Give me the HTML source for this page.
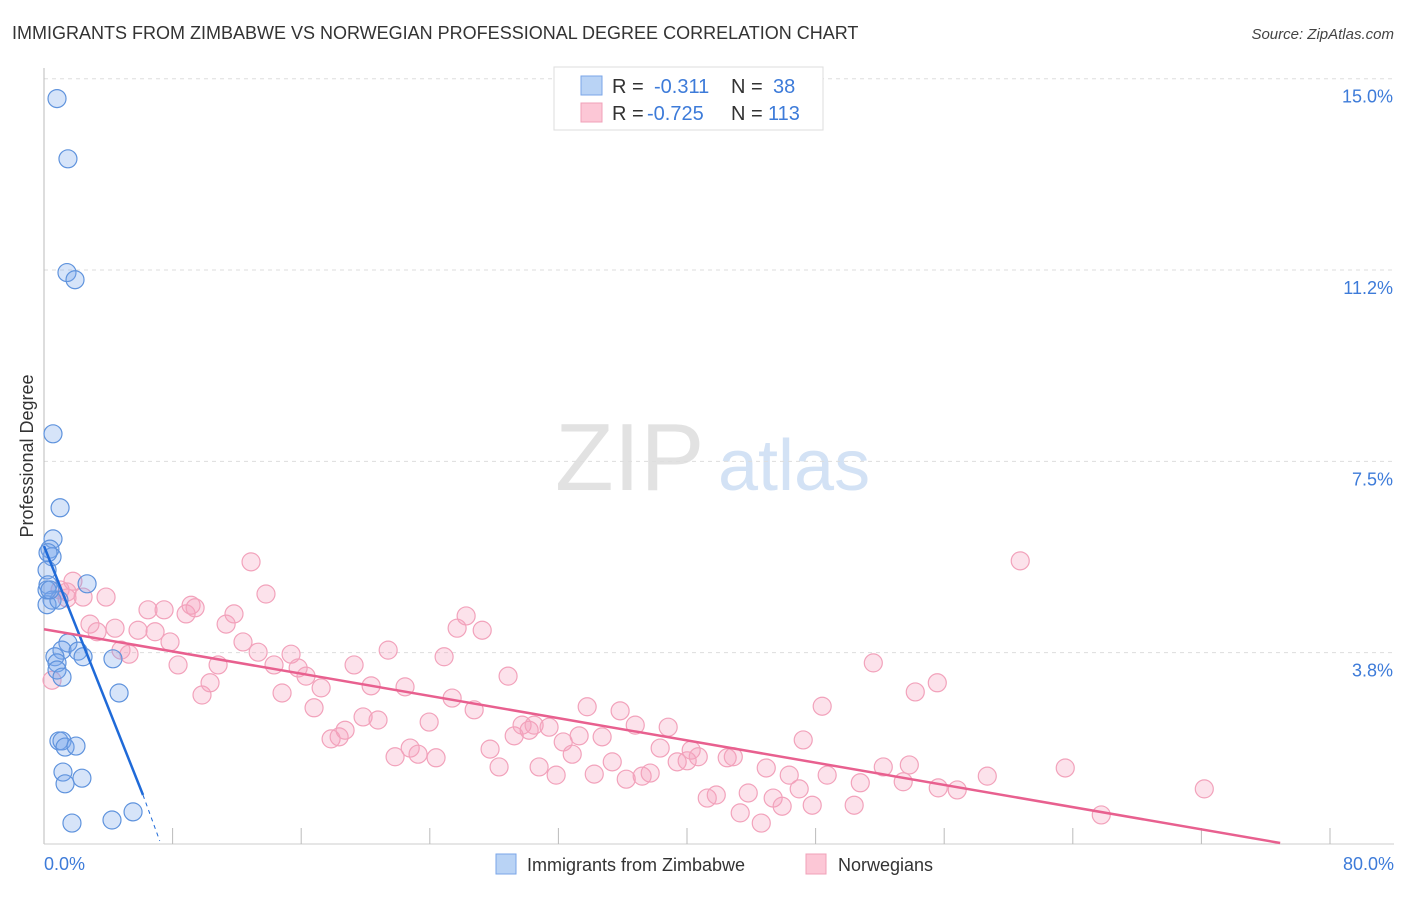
<!DOCTYPE html>
<html><head><meta charset="utf-8"><style>
body{margin:0;background:#fff;font-family:"Liberation Sans",sans-serif;}
svg text{font-family:"Liberation Sans",sans-serif;}
</style></head><body>
<svg id="chart" width="1406" height="892" viewBox="0 0 1406 892" xmlns="http://www.w3.org/2000/svg">
<text x="12" y="39" font-size="18" fill="#333">IMMIGRANTS FROM ZIMBABWE VS NORWEGIAN PROFESSIONAL DEGREE CORRELATION CHART</text>
<text x="1394" y="39" font-size="15" fill="#444" font-style="italic" text-anchor="end">Source: ZipAtlas.com</text>
<g>
<text x="555" y="490" font-size="96" fill="#e2e2e2" font-family="Liberation Serif, serif">ZIP</text>
<text x="718" y="490" font-size="72" fill="#d3e2f5">atlas</text>
</g>
<g id="grid"></g>
<g id="axes"></g>
<g id="pts"></g>
<g id="trends"></g>
<text transform="translate(33,456) rotate(-90)" font-size="18" fill="#333" text-anchor="middle">Professional Degree</text>
<text x="44" y="870" font-size="18" fill="#3d7bd9">0.0%</text>
<text x="1394" y="870" font-size="18" fill="#3d7bd9" text-anchor="end">80.0%</text>
<g>
<rect x="554" y="67" width="269" height="63" fill="#fff" stroke="#ddd"/>
<rect x="581" y="76" width="21" height="19" fill="#b9d3f5" stroke="#7aa6e8"/>
<rect x="581" y="103" width="21" height="19" fill="#fcc7d6" stroke="#f0a0b8"/>
<text x="612" y="93" font-size="20" fill="#333">R = </text><text x="654" y="93" font-size="20" fill="#3d7bd9">-0.311</text>
<text x="731" y="93" font-size="20" fill="#333">N = </text><text x="773" y="93" font-size="20" fill="#3d7bd9">38</text>
<text x="612" y="120" font-size="20" fill="#333">R = </text><text x="647" y="120" font-size="20" fill="#3d7bd9">-0.725</text>
<text x="731" y="120" font-size="20" fill="#333">N = </text><text x="768" y="120" font-size="20" fill="#3d7bd9">113</text>
</g>
<g>
<rect x="496" y="854" width="20" height="20" fill="#b9d3f5" stroke="#7aa6e8"/>
<text x="527" y="871" font-size="18" fill="#333">Immigrants from Zimbabwe</text>
<rect x="806" y="854" width="20" height="20" fill="#fcc7d6" stroke="#f0a0b8"/>
<text x="838" y="871" font-size="18" fill="#333">Norwegians</text>
</g>
</svg>
<script>
const yTicks=[3.75,7.5,11.25,15];
const yTickLabels=["3.8%","7.5%","11.2%","15.0%"];
const xTicks=[8,16,24,32,40,48,56,64,72,80];
const blueX=[0.81,1.49,1.43,1.93,0.56,1.00,0.56,0.37,0.50,0.25,0.19,0.25,0.50,0.19,0.93,2.68,1.49,1.12,2.12,2.43,0.68,0.81,0.81,1.12,4.29,4.67,0.93,1.12,1.31,1.99,1.18,1.31,2.36,1.74,4.23,5.54,0.19,0.37];
const blueY=[14.61,13.43,11.20,11.06,8.04,6.59,5.98,5.78,5.63,5.71,5.37,5.08,4.78,4.69,4.78,5.10,3.94,3.80,3.78,3.67,3.67,3.55,3.41,3.27,3.63,2.96,2.02,2.02,1.90,1.92,1.41,1.18,1.29,0.41,0.47,0.63,4.98,4.98];
const pinkX=[0.50,1.00,1.43,1.80,1.43,2.43,2.86,3.30,3.86,4.42,4.79,5.29,5.85,6.47,6.91,7.47,7.84,8.34,8.84,9.15,9.40,9.83,10.33,10.83,11.33,11.82,12.38,12.88,13.32,13.81,14.31,14.81,15.37,15.81,16.30,16.80,17.24,17.86,18.36,18.73,19.29,19.85,20.35,20.78,21.41,21.84,22.46,22.78,23.27,23.96,24.39,24.89,25.39,25.70,26.26,26.76,27.26,27.75,28.31,28.87,29.25,29.74,30.18,30.49,30.80,31.42,31.86,32.30,32.86,33.29,33.79,34.23,34.72,35.35,35.84,36.22,36.78,37.21,37.71,38.33,38.83,39.39,40.01,40.26,40.70,41.26,41.82,42.50,42.88,43.31,43.81,44.62,44.93,45.36,45.92,46.36,46.98,47.23,47.79,48.41,48.72,50.40,50.78,51.59,52.21,53.45,53.83,54.20,55.57,55.63,56.81,58.68,60.73,63.53,65.77,72.18];
const pinkY=[3.21,4.98,4.82,5.15,4.94,4.84,4.31,4.16,4.84,4.23,3.80,3.72,4.19,4.59,4.16,4.59,3.96,3.51,4.51,4.68,4.63,2.92,3.16,3.51,4.31,4.51,3.96,5.53,3.76,4.90,3.51,2.96,3.72,3.45,3.29,2.67,3.06,2.06,2.10,2.23,3.51,2.49,3.10,2.43,3.80,1.71,3.08,1.88,1.76,2.39,1.69,3.67,2.86,4.23,4.47,2.63,4.19,1.86,1.51,3.29,2.12,2.33,2.23,2.33,1.51,2.29,1.35,2.00,1.76,2.12,2.69,1.37,2.10,1.61,2.61,1.27,2.33,1.33,1.39,1.88,2.29,1.61,1.63,1.84,1.71,0.90,0.96,1.69,1.71,0.61,1.00,0.41,1.49,0.90,0.74,1.35,1.08,2.04,0.76,2.70,1.35,0.76,1.20,3.55,1.51,1.22,1.55,2.98,3.16,1.10,1.06,1.33,5.55,1.49,0.57,1.08];
const blueTrend=[0,5.84,6.16,0.96,7.2,0.06];
const pinkTrend=[0,4.21,76.9,0.02];
const sx=v=>44+v*16.075, sy=v=>844-v*51.02;
const NS="http://www.w3.org/2000/svg";
function mk(parent,tag,attrs){const e=document.createElementNS(NS,tag);for(const k in attrs)e.setAttribute(k,attrs[k]);document.getElementById(parent).appendChild(e);return e;}
yTicks.forEach((t,i)=>{
 const l=mk('grid','line',{x1:44,x2:1394,y1:sy(t),y2:sy(t),stroke:'#ddd','stroke-dasharray':'4,4'});
 
 
 const tx=mk('grid','text',{x:1393,y:sy(t)+24,'font-size':18,fill:'#3d7bd9','text-anchor':'end'});
 tx.textContent=yTickLabels[i];
 
 
});
const ya=mk('axes','line',{x1:44,x2:44,y1:68,y2:844,stroke:'#bbb'});


const xa=mk('axes','line',{x1:44,x2:1394,y1:844,y2:844,stroke:'#ccc'});


xTicks.forEach(t=>{
 const l=mk('axes','line',{x1:sx(t),x2:sx(t),y1:828,y2:844,stroke:'#bbb'});
 
 
});
pinkX.forEach((x,i)=>{
 const c=mk('pts','circle',{cx:sx(x),cy:sy(pinkY[i]),r:9,fill:'rgba(246,160,188,0.3)',stroke:'#f2a2bb','stroke-width':1.2});
 
 
});
blueX.forEach((x,i)=>{
 const c=mk('pts','circle',{cx:sx(x),cy:sy(blueY[i]),r:9,fill:'rgba(120,165,235,0.3)',stroke:'#5f93dd','stroke-width':1.2});
 
 
});
const bt=mk('trends','line',{x1:sx(blueTrend[0]),y1:sy(blueTrend[1]),x2:sx(blueTrend[2]),y2:sy(blueTrend[3]),stroke:'#1f6ad8','stroke-width':2.5});


const bd=mk('trends','line',{x1:sx(blueTrend[2]),y1:sy(blueTrend[3]),x2:sx(blueTrend[4]),y2:sy(blueTrend[5]),stroke:'#1f6ad8','stroke-width':1,'stroke-dasharray':'4,4'});


const pt=mk('trends','line',{x1:sx(pinkTrend[0]),y1:sy(pinkTrend[1]),x2:sx(pinkTrend[2]),y2:sy(pinkTrend[3]),stroke:'#e8608f','stroke-width':2.5});


</script>
</body></html>
